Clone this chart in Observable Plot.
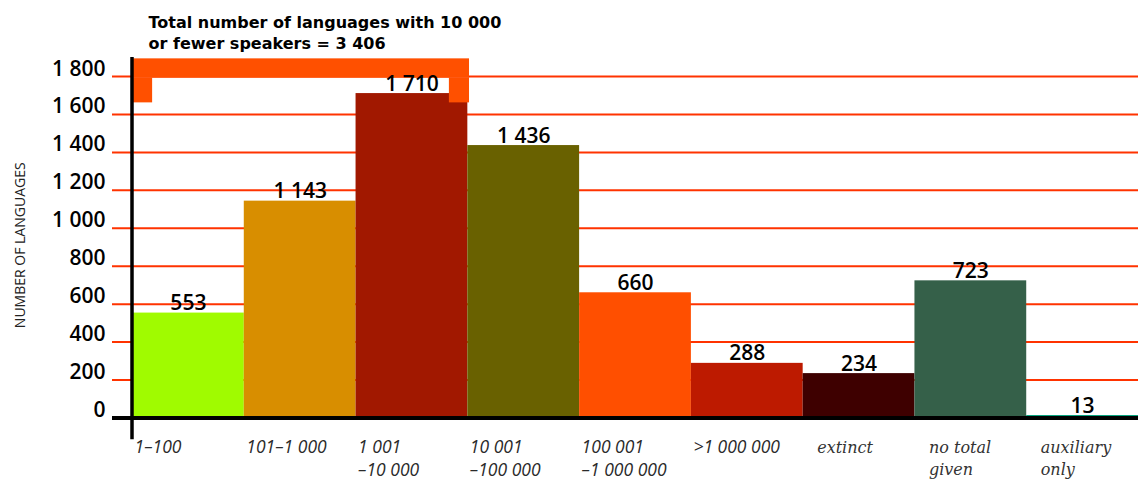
<!DOCTYPE html>
<html>
<head>
<meta charset="utf-8">
<script src="https://cdn.jsdelivr.net/npm/d3@7"></script>
<script src="https://cdn.jsdelivr.net/npm/@observablehq/plot@0.6"></script>
<style>
  html, body { margin: 0; padding: 0; background: #fff; }
  #chart svg { display: block; }
</style>
</head>
<body>
<div id="chart"></div>
<script>
// ---- data ----
const categories = ["1–100", "101–1 000", "1 001\n–10 000", "10 001\n–100 000", "100 001\n–1 000 000", ">1 000 000", "extinct", "no total\ngiven", "auxiliary\nonly"];
const counts = [553, 1143, 1710, 1436, 660, 288, 234, 723, 13];
const barColors = ["#a0fb00", "#d88e00", "#a11800", "#696100", "#ff4f00", "#bd1a00", "#3e0000", "#356049", "#00a07a"];
const yTicks = [0, 200, 400, 600, 800, 1000, 1200, 1400, 1600, 1800];
const yTickLabels = ["0", "200", "400", "600", "800", "1 000", "1 200", "1 400", "1 600", "1 800"];
const titleLines = ["Total number of languages with 10 000", "or fewer speakers = 3 406"];
const yTitle = "NUMBER OF LANGUAGES";
const bracketCategories = ["1–100", "101–1 000", "1 001\n–10 000"]; // groups summed in the title

const fmt = d3.formatLocale({decimal: ".", thousands: " ", grouping: [3], currency: ["", ""]}).format(",d");
const data = categories.map((c, i) => ({i, category: c, count: counts[i], color: barColors[i], label: fmt(counts[i])}));

// bracket over the first groups (index units on x, value units on y)
const bStart = categories.indexOf(bracketCategories[0]);
const bEnd = categories.indexOf(bracketCategories[bracketCategories.length - 1]) + 1;
const legW = 0.18, legEnd = 1661, barLow = 1791, barHigh = 1893, over = 0.015;
const bracket = [
  {x1: bStart, x2: bEnd + over, y1: barLow, y2: barHigh},
  {x1: bStart, x2: bStart + legW, y1: legEnd, y2: barLow + 1},
  {x1: bEnd + over - legW, x2: bEnd + over, y1: legEnd, y2: barLow + 1}
];

const numFont = "'Open Sans', 'DejaVu Sans', sans-serif";
const titleFont = "'DejaVu Sans', 'Open Sans', sans-serif";

const chart = Plot.plot({
  width: 1138,
  height: 484,
  marginLeft: 112,
  marginRight: 0,
  marginTop: 76,
  marginBottom: 66.5,
  style: {background: "#fff", fontFamily: numFont},
  x: {domain: [0, categories.length], range: [132, 1138], axis: null},
  y: {domain: [0, 1800], range: [417.5, 76], axis: null},
  marks: [
    Plot.ruleY(yTicks.filter(d => d > 0), {stroke: "#ff3300", strokeWidth: 2}),
    Plot.rectY(data, {x1: "i", x2: d => d.i + 1, y1: 0, y2: "count", fill: d => d.color}),
    Plot.rect(bracket, {x1: "x1", x2: "x2", y1: "y1", y2: "y2", fill: "#ff5000"}),
    Plot.ruleY([0], {stroke: "#000", strokeWidth: 4}),
    Plot.ruleX([0], {y1: -115, y2: 1900, stroke: "#000", strokeWidth: 3.5, dx: -0.5}),
    // y tick labels
    Plot.text(yTicks, {y: d => d, text: (d, i) => yTickLabels[i], frameAnchor: "left", textAnchor: "end", lineAnchor: "bottom", dx: -7, dy: -1, fontSize: 21, fontWeight: 600, fill: "#000"}),
    // value labels
    Plot.text(data, {x: d => d.i + 0.5, y: "count", text: "label", lineAnchor: "bottom", dy: -3, fontSize: 21, fontWeight: 600, fill: "#000"}),
    // category labels (numeric ranges)
    Plot.text(data.filter(d => /\d/.test(d.category)), {x: "i", text: "category", frameAnchor: "bottom", textAnchor: "start", lineAnchor: "top", dx: 2, dy: 19, fontSize: 17.5, fontStyle: "italic", fontWeight: 400, lineHeight: 1.3, fill: "#2a2a2a"}),
    // category labels (words)
    Plot.text(data.filter(d => !/\d/.test(d.category)), {x: "i", text: "category", frameAnchor: "bottom", textAnchor: "start", lineAnchor: "top", dx: 14, dy: 19, fontSize: 16, fontStyle: "italic", fontFamily: "'DejaVu Serif', serif", lineHeight: 1.4, fill: "#333"}),
    // y title
    Plot.text([yTitle], {frameAnchor: "left", rotate: -90, dx: -92, dy: -2, fontSize: 14, fill: "#222", textAnchor: "middle"}),
    // chart title
    Plot.text([titleLines[0]], {frameAnchor: "top-left", textAnchor: "start", lineAnchor: "bottom", dx: 36, dy: -49, fontSize: 16, fontWeight: "bold", fontFamily: titleFont, fill: "#000"}),
    Plot.text([titleLines[1]], {frameAnchor: "top-left", textAnchor: "start", lineAnchor: "bottom", dx: 36, dy: -28, fontSize: 16, fontWeight: "bold", fontFamily: titleFont, fill: "#000"})
  ]
});
document.getElementById("chart").appendChild(chart);
</script>
</body>
</html>
